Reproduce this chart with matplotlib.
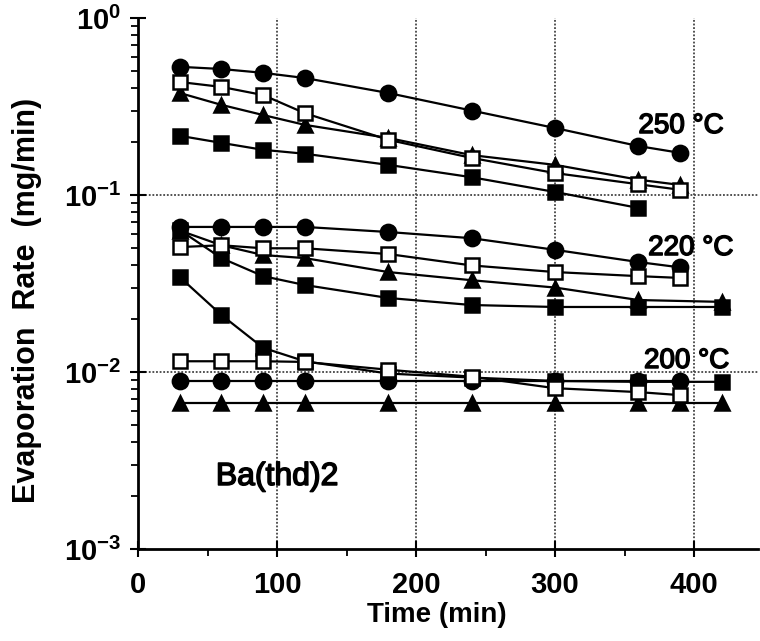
import matplotlib
matplotlib.use("Agg")
import matplotlib.pyplot as plt
import matplotlib.patheffects as pe
from matplotlib.ticker import FixedLocator, FuncFormatter, LogLocator, NullFormatter, MultipleLocator

plt.rcParams['font.family'] = ['Liberation Sans', 'DejaVu Sans']
plt.rcParams['mathtext.fontset'] = 'custom'
plt.rcParams['mathtext.rm'] = 'Liberation Sans:bold'
plt.rcParams['mathtext.bf'] = 'Liberation Sans:bold'

# ---- data ----
t9 = [30, 60, 90, 120, 180, 240, 300, 360, 390]
t8 = [30, 60, 90, 120, 180, 240, 300, 360]
t_220sq = [30, 60, 90, 120, 180, 240, 300, 360, 420]
t_220tri = [30, 60, 90, 120, 180, 240, 300, 360, 420]
t_200tri = [30, 60, 90, 120, 180, 240, 300, 360, 390, 420]
t_200sq = [30, 60, 90, 120, 180, 240, 300, 360, 420]

r250_circle = [0.53, 0.515, 0.49, 0.458, 0.377, 0.30, 0.239, 0.189, 0.173]
r250_open = [0.435, 0.408, 0.367, 0.29, 0.205, 0.162, 0.133, 0.115, 0.107]
r250_tri = [0.377, 0.323, 0.283, 0.249, 0.21, 0.168, 0.148, 0.122, 0.114]
r250_sq = [0.216, 0.197, 0.18, 0.171, 0.148, 0.126, 0.104, 0.0845]

r220_circle = [0.066, 0.066, 0.066, 0.066, 0.0618, 0.057, 0.049, 0.0418, 0.039]
r220_open = [0.0508, 0.052, 0.050, 0.050, 0.0464, 0.040, 0.0367, 0.0348, 0.034]
r220_tri = [0.063, 0.052, 0.0458, 0.044, 0.0367, 0.033, 0.030, 0.0255, 0.0249]
r220_sq = [0.0634, 0.044, 0.0348, 0.031, 0.0262, 0.0239, 0.0233, 0.0233, 0.0233]

r200_circle = [0.0089, 0.0089, 0.0089, 0.0089, 0.0089, 0.0089, 0.0089, 0.0089, 0.0089]
r200_open = [0.0115, 0.0115, 0.0115, 0.0114, 0.0103, 0.0094, 0.0081, 0.0077, 0.0074]
r200_tri = [0.0067] * 10
r200_sq = [0.0344, 0.021, 0.0137, 0.0115, 0.0098, 0.0093, 0.0089, 0.0088, 0.0088]

x_ticks = [0, 100, 200, 300, 400]
y_ticks = [1e-3, 1e-2, 1e-1, 1e0]
y_tick_labels = [r'$10^{-3}$', r'$10^{-2}$', r'$10^{-1}$', r'$10^{0}$']
temp_labels = ['250 °C', '220 °C', '200 °C']
compound = 'Ba(thd)2'

fig = plt.figure(figsize=(7.6, 6.41), dpi=100)
ax = fig.add_axes([138/760, 1-549/641, (758-138)/760, (549-18)/641])
ax.set_yscale('log')
ax.set_xlim(0, 446)
ax.set_ylim(1e-3, 1)

lw = 1.6
ms_c, ms_s, ms_t = 11, 10.5, 10
def draw(t, r, marker, filled, ms):
    ax.plot(t, r, color='black', lw=lw, marker=marker, ms=ms,
            mfc='black' if filled else 'white', mec='black', mew=1.8, zorder=3)

for (ci, op, tr, sq, tc, to, tt, ts) in [
    (r250_circle, r250_open, r250_tri, r250_sq, t9, t9, t9, t8),
    (r220_circle, r220_open, r220_tri, r220_sq, t9, t9, t_220tri, t_220sq),
    (r200_circle, r200_open, r200_tri, r200_sq, t9, t9, t_200tri, t_200sq)]:
    draw(ts, sq, 's', True, ms_s)
    draw(tt, tr, '^', True, ms_t)
    draw(tc, ci, 'o', True, ms_c)
    draw(to, op, 's', False, ms_s)

# grid
for g in y_ticks[1:3]:
    ax.axhline(g, color='#444444', lw=1.3, ls=(0, (1, 1)), zorder=1)
for g in x_ticks[1:]:
    ax.axvline(g, color='#444444', lw=1.3, ls=(0, (1, 1)), zorder=1)

for s in ['top', 'right']:
    ax.spines[s].set_visible(False)
for s in ['left', 'bottom']:
    ax.spines[s].set_linewidth(2)

ax.xaxis.set_major_locator(FixedLocator(x_ticks))
ax.xaxis.set_minor_locator(MultipleLocator(50))
ax.yaxis.set_major_locator(FixedLocator(y_ticks))
ax.yaxis.set_major_formatter(FuncFormatter(lambda v, p: y_tick_labels[y_ticks.index(v)] if v in y_ticks else ''))
ax.yaxis.set_minor_locator(LogLocator(base=10, subs=range(2, 10)))
ax.yaxis.set_minor_formatter(NullFormatter())
ax.tick_params(which='major', direction='inout', length=12, width=1.5)
ax.tick_params(axis='x', which='major', labelsize=21, pad=10)
ax.tick_params(axis='y', which='major', labelsize=21, pad=6)
ax.tick_params(which='minor', direction='out', length=5, width=1.3)
for lab in ax.get_xticklabels():
    lab.set_fontweight('bold')

ax.set_xlabel('Time (min)', fontsize=20, fontweight='bold')
ax.xaxis.set_label_coords((437-138)/620, -(602-549)/531)
ax.set_ylabel('Evaporation  Rate  (mg/min)', fontsize=22, fontweight='bold')
ax.yaxis.set_label_coords(-(138-42)/620, (549-300)/531)

peff = [pe.withStroke(linewidth=1.1, foreground='black')]
ax.text(360, 0.224, temp_labels[0], fontsize=20, ha='left', va='baseline', path_effects=peff)
ax.text(367, 0.0458, temp_labels[1], fontsize=20, ha='left', va='baseline', path_effects=peff)
ax.text(364, 0.01054, temp_labels[2], fontsize=20, ha='left', va='baseline', path_effects=peff)
ax.text(56, 0.0023, compound, fontsize=23, ha='left', va='baseline', path_effects=peff)

fig.savefig('out.png', dpi=100)
